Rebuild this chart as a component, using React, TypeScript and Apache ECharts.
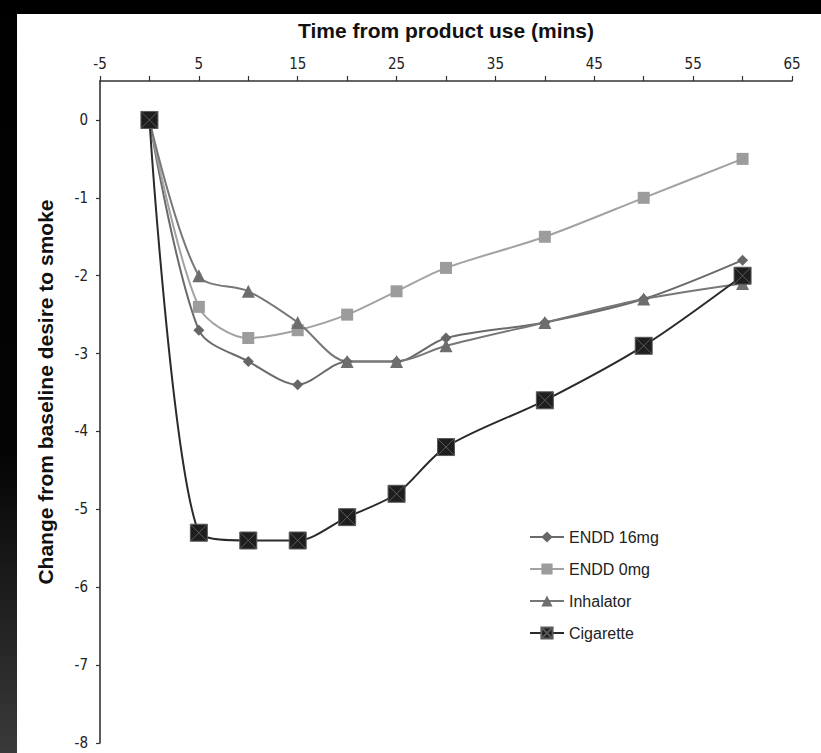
import React, { useEffect, useRef } from "react";
import * as echarts from "echarts";

const times = [0, 5, 10, 15, 20, 25, 30, 40, 50, 60];
const endd16 = [0, -2.7, -3.1, -3.4, -3.1, -3.1, -2.8, -2.6, -2.3, -1.8];
const endd0 = [0, -2.4, -2.8, -2.7, -2.5, -2.2, -1.9, -1.5, -1.0, -0.5];
const inhalator = [0, -2.0, -2.2, -2.6, -3.1, -3.1, -2.9, -2.6, -2.3, -2.1];
const cigarette = [0, -5.3, -5.4, -5.4, -5.1, -4.8, -4.2, -3.6, -2.9, -2.0];
const yTicks = [-8, -7, -6, -5, -4, -3, -2, -1, 0];
const xLabels = [-5, 5, 15, 25, 35, 45, 55, 65];
const xTicks = [-5, 0, 5, 10, 15, 20, 25, 30, 35, 40, 45, 50, 55, 60, 65];
const seriesNames = ["ENDD 16mg", "ENDD 0mg", "Inhalator", "Cigarette"];
const xTitle = "Time from product use (mins)";
const yTitle = "Change from baseline desire to smoke";

const pairs = (ys: number[]) => times.map((t, i) => [t, ys[i]]);

export default function App() {
  const ref = useRef<HTMLDivElement>(null);
  useEffect(() => {
    document.body.style.margin = "0";
    const chart = echarts.init(ref.current!, undefined, { renderer: "svg" });
    const tickFont = "'DejaVu Sans Condensed', 'DejaVu Sans', sans-serif";
    const nameFont = "'Liberation Sans', Arial, sans-serif";
    chart.setOption({
      animation: false,
      backgroundColor: "#000",
      graphic: [
        {
          type: "rect",
          shape: { x: 0, y: 14, width: 17, height: 739 },
          style: {
            fill: new echarts.graphic.LinearGradient(0, 0, 0, 1, [
              { offset: 0, color: "#000" },
              { offset: 0.6, color: "#050505" },
              { offset: 1, color: "#3a3a3a" },
            ]),
          },
          silent: true,
          z: -10,
        },
        {
          type: "rect",
          shape: { x: 17, y: 14, width: 804, height: 739 },
          style: { fill: "#fff" },
          silent: true,
          z: -10,
        },
        {
          type: "text",
          x: 45,
          y: 392,
          rotation: Math.PI / 2,
          style: {
            text: yTitle,
            fontFamily: nameFont,
            fontSize: 21,
            fontWeight: "bold",
            fill: "#111",
            align: "center",
            verticalAlign: "middle",
          },
          silent: true,
        },
      ],
      grid: { left: 100, top: 81, right: 29, bottom: 10, containLabel: false },
      legend: {
        orient: "vertical",
        left: 524,
        top: 524,
        itemWidth: 34,
        itemHeight: 14,
        itemGap: 16,
        data: seriesNames,
        textStyle: { fontFamily: nameFont, fontSize: 16, color: "#222" },
      },
      xAxis: {
        type: "value",
        position: "top",
        min: -5,
        max: 65,
        interval: 5,
        name: xTitle,
        nameLocation: "middle",
        nameGap: 40,
        nameTextStyle: { fontFamily: nameFont, fontSize: 21, fontWeight: "bold", color: "#111" },
        axisLine: { show: true, onZero: false, lineStyle: { color: "#333", width: 1.6 } },
        axisTick: { show: true, customValues: xTicks, length: 5, inside: false, lineStyle: { color: "#333", width: 1.2 } },
        axisLabel: { customValues: xLabels, margin: 10, fontFamily: tickFont, fontSize: 15, color: "#222" },
        splitLine: { show: false },
      },
      yAxis: {
        type: "value",
        min: -8,
        max: 0.5,
        axisLine: { show: true, onZero: false, lineStyle: { color: "#333", width: 1.6 } },
        axisTick: { show: true, length: 4, customValues: yTicks, lineStyle: { color: "#333", width: 1.2 } },
        axisLabel: { customValues: yTicks, margin: 12, fontFamily: tickFont, fontSize: 15, color: "#222" },
        splitLine: { show: false },
      },
      series: [
        {
          name: seriesNames[0],
          type: "line",
          data: pairs(endd16),
          smooth: 0.3,
          symbol: "diamond",
          symbolSize: 11,
          lineStyle: { color: "#6a6a6a", width: 2 },
          itemStyle: { color: "#666" },
          z: 2,
        },
        {
          name: seriesNames[1],
          type: "line",
          data: pairs(endd0),
          smooth: 0.3,
          symbol: "rect",
          symbolSize: 12,
          lineStyle: { color: "#a2a2a2", width: 2 },
          itemStyle: { color: "#9c9c9c" },
          z: 2,
        },
        {
          name: seriesNames[2],
          type: "line",
          data: pairs(inhalator),
          smooth: 0.3,
          symbol: "triangle",
          symbolSize: 13,
          lineStyle: { color: "#777", width: 2 },
          itemStyle: { color: "#6e6e6e" },
          z: 2,
        },
        {
          name: seriesNames[3],
          type: "line",
          data: pairs(cigarette),
          smooth: 0.3,
          symbol: "path://M0 0H10V10H0Z M0 0L10 10 M10 0L0 10",
          symbolSize: 17,
          lineStyle: { color: "#2a2a2a", width: 2 },
          itemStyle: { color: "#1e1e1e", borderColor: "#5a5a5a", borderWidth: 1 },
          z: 3,
        },
      ],
    });
    return () => chart.dispose();
  }, []);
  return <div ref={ref} style={{ position: "absolute", left: 0, top: 0, width: 821, height: 753 }} />;
}
